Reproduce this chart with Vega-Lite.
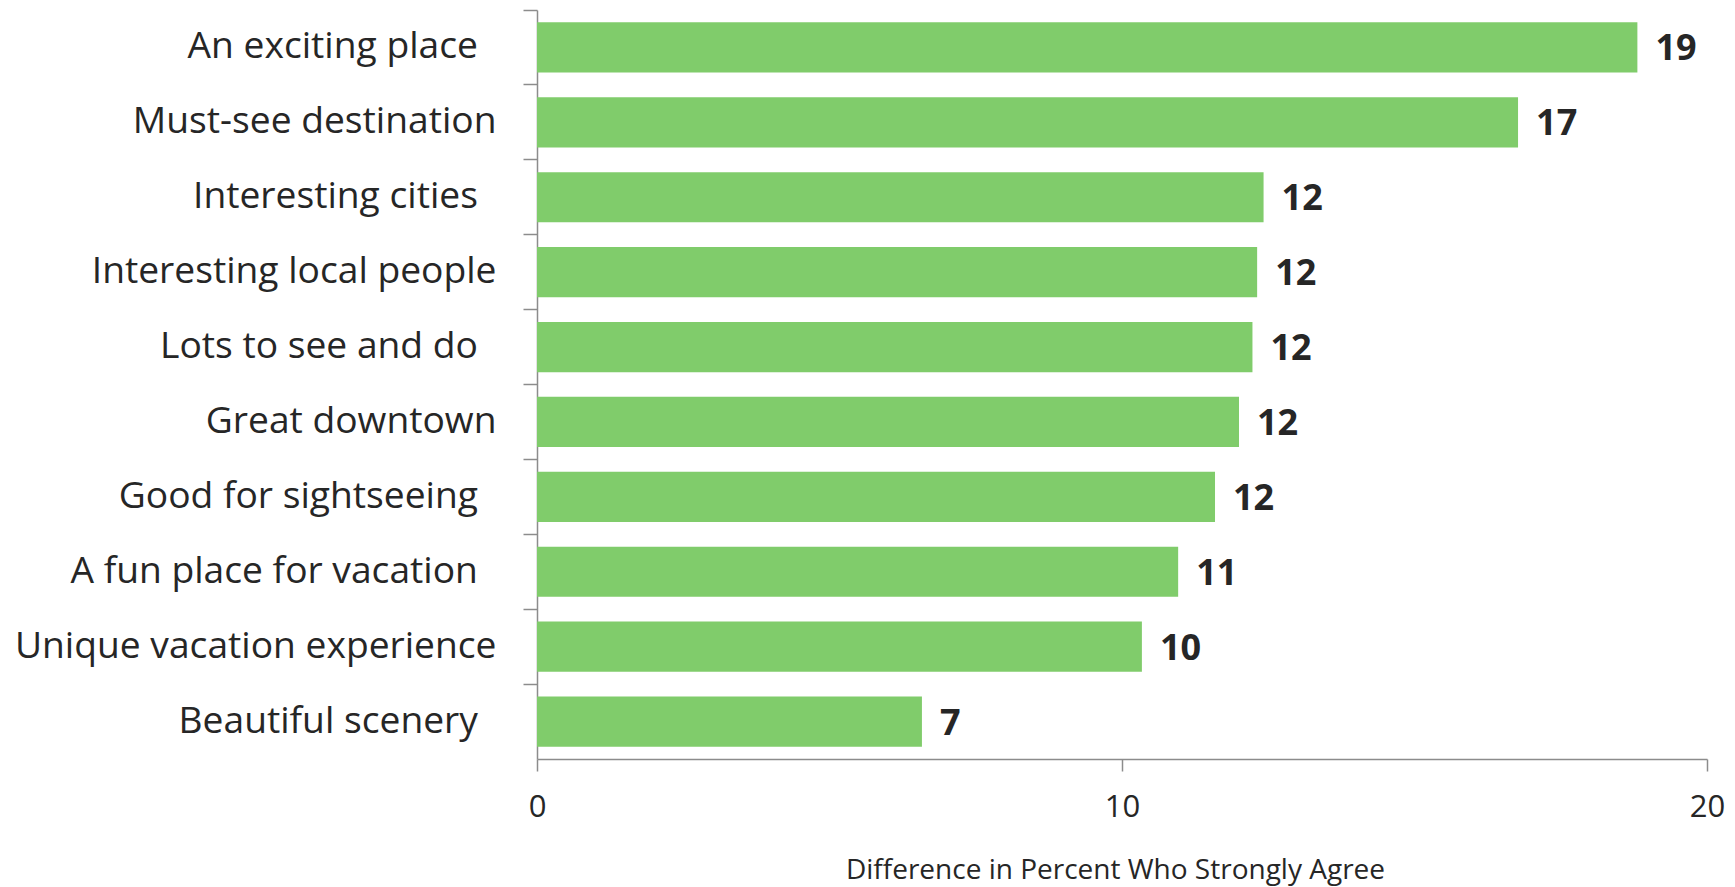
{
  "$schema": "https://vega.github.io/schema/vega-lite/v6.json",
  "width": 1170,
  "height": 749,
  "autosize": {"type": "none"},
  "padding": {"left": 537, "top": 10, "right": 28, "bottom": 128},
  "background": "white",
  "config": {"view": {"stroke": null}, "font": "Open Sans"},
  "data": {
    "values": [
      {"attribute": "An exciting place\u2002\u200b", "value": 18.81},
      {"attribute": "Must-see destination", "value": 16.77},
      {"attribute": "Interesting cities\u2002\u200b", "value": 12.42},
      {"attribute": "Interesting local people", "value": 12.31},
      {"attribute": "Lots to see and do\u2002\u200b", "value": 12.23},
      {"attribute": "Great downtown", "value": 12.0},
      {"attribute": "Good for sightseeing\u2002\u200b", "value": 11.59},
      {"attribute": "A fun place for vacation\u2002\u200b", "value": 10.96},
      {"attribute": "Unique vacation experience", "value": 10.34},
      {"attribute": "Beautiful scenery\u2002\u200b", "value": 6.58}
    ]
  },
  "encoding": {
    "y": {
      "field": "attribute",
      "type": "nominal",
      "sort": null,
      "scale": {"paddingInner": 0, "paddingOuter": 0},
      "axis": {
        "title": null,
        "bandPosition": 0,
        "domainColor": "#8c8c8c",
        "domainWidth": 1.5,
        "tickColor": "#8c8c8c",
        "tickWidth": 1.5,
        "tickSize": 14,
        "labelFont": "Open Sans",
        "labelFontSize": 37.2,
        "labelColor": "#262626",
        "labelPadding": 27,
        "labelLimit": 700
      }
    },
    "x": {
      "field": "value",
      "type": "quantitative",
      "scale": {"domain": [0, 20], "nice": false},
      "axis": {
        "title": "Difference in Percent Who Strongly Agree",
        "values": [0, 10, 20],
        "grid": false,
        "labelFlush": false,
        "domainColor": "#8c8c8c",
        "domainWidth": 1.5,
        "tickColor": "#8c8c8c",
        "tickWidth": 1.5,
        "tickSize": 12,
        "labelFont": "Open Sans",
        "labelFontSize": 31,
        "labelColor": "#262626",
        "labelPadding": 21,
        "titleFont": "Open Sans",
        "titleFontSize": 28,
        "titleFontWeight": "normal",
        "titleColor": "#262626",
        "titlePadding": 34,
        "titleX": 578
      }
    }
  },
  "layer": [
    {
      "mark": {"type": "bar", "color": "#80CC6B", "height": {"band": 0.67}}
    },
    {
      "mark": {"type": "text", "align": "left", "baseline": "middle", "dx": 18, "dy": 2, "font": "Open Sans", "fontWeight": "bold", "fontSize": 36, "color": "#262626"},
      "encoding": {"text": {"field": "value", "type": "quantitative", "format": ".0f"}}
    }
  ]
}
